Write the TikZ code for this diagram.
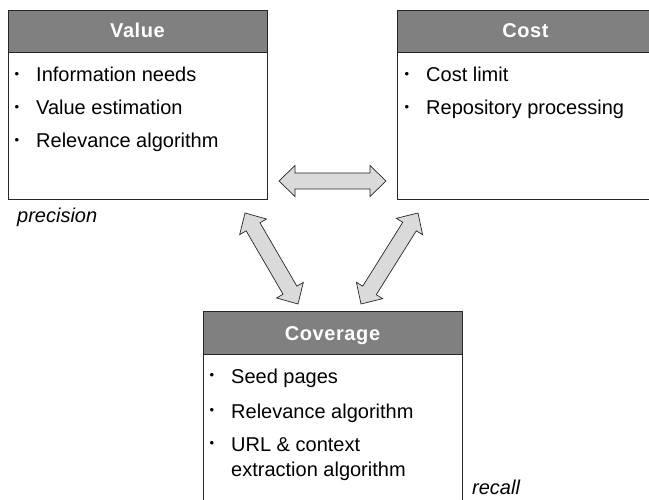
\documentclass[tikz,border=0pt]{standalone}
\usepackage{fontspec}
\setmainfont{Liberation Sans}
\usetikzlibrary{calc}
\definecolor{hdr}{HTML}{808080}
\definecolor{arr}{HTML}{DADADA}
\tikzset{
 boxframe/.style={draw=black!85, line width=0.9pt, fill=white, inner sep=0pt, anchor=north west},
 hdrbox/.style={draw=black!85, line width=0.9pt, fill=hdr, inner sep=0pt, anchor=north west, minimum height=42pt},
 hdrtext/.style={text=white, font=\fontsize{20}{21}\selectfont\bfseries\addfontfeatures{LetterSpace=3}, anchor=base, inner sep=0pt},
 item/.style={font=\fontsize{20}{21}\selectfont, anchor=base west, inner sep=0pt},
 bul/.style={font=\fontsize{13}{13}\selectfont, inner sep=0pt},
 note/.style={font=\fontsize{20}{21}\selectfont\itshape, anchor=base west, inner sep=0pt},
 blockarr/.style={draw=black!85, line width=0.7pt, fill=arr, line join=miter}
}
\newcommand{\bitem}[4]{%
 \node[bul] (#1b) at ({#2pt-19pt},{-#3pt+6.5pt}) {•};
 \node[item] (#1) at (#2pt,-#3pt) {#4};}
\newcommand{\blockarrow}[2]{%
 \coordinate (ba1) at ($(#1)!16pt!(#2)$);
 \coordinate (ba2) at ($(#2)!16pt!(#1)$);
 \draw[blockarr] (#1) -- ($(ba1)!15.5pt!90:(#2)$) -- ($(ba1)!8pt!90:(#2)$)
   -- ($(ba2)!8pt!-90:(#1)$) -- ($(ba2)!15.5pt!-90:(#1)$) -- (#2)
   -- ($(ba2)!15.5pt!90:(#1)$) -- ($(ba2)!8pt!90:(#1)$)
   -- ($(ba1)!8pt!-90:(#2)$) -- ($(ba1)!15.5pt!-90:(#2)$) -- cycle;}
\begin{document}
\begin{tikzpicture}[x=1pt,y=1pt]
\useasboundingbox (0,0) rectangle (649,-500);
\begin{scope}
\clip (0,0) rectangle (649,-500);
% Value box
\node[boxframe, minimum width=259pt, minimum height=189pt] (valuebox) at (8,-10) {};
\node[hdrbox, minimum width=259pt] (valuehdr) at (8,-10) {};
\node[hdrtext] (valuet) at (137.5,-38) {Value};
\bitem{v1}{36}{82}{Information needs}
\bitem{v2}{36}{115}{Value estimation}
\bitem{v3}{36}{148}{Relevance algorithm}
\node[note] (prec) at (17,-223) {precision};
% Cost box
\node[boxframe, minimum width=257pt, minimum height=189pt] (costbox) at (397,-10) {};
\node[hdrbox, minimum width=257pt] (costhdr) at (397,-10) {};
\node[hdrtext] (costt) at (525.5,-38) {Cost};
\bitem{c1}{426}{82}{Cost limit}
\bitem{c2}{426}{115}{Repository processing}
% Coverage box
\node[boxframe, minimum width=259pt, minimum height=220pt] (covbox) at (203,-311) {};
\node[hdrbox, minimum width=259pt, minimum height=43pt] (covhdr) at (203,-311) {};
\node[hdrtext] (covt) at (332.5,-341) {Coverage};
\bitem{g1}{231}{383}{Seed pages}
\bitem{g2}{231}{418}{Relevance algorithm}
\bitem{g3}{231}{451}{URL \& context}
\node[item] (g4) at (231,-476) {extraction algorithm};
\node[note] (rec) at (472,-494) {recall};
% arrows
\coordinate (h1) at (279,-181);
\coordinate (h2) at (386,-181);
\coordinate (l1) at (245,-213);
\coordinate (l2) at (298,-304);
\coordinate (r1) at (418,-213);
\coordinate (r2) at (361,-304);
\blockarrow{h1}{h2}
\blockarrow{l1}{l2}
\blockarrow{r1}{r2}
\end{scope}
\end{tikzpicture}
\end{document}
